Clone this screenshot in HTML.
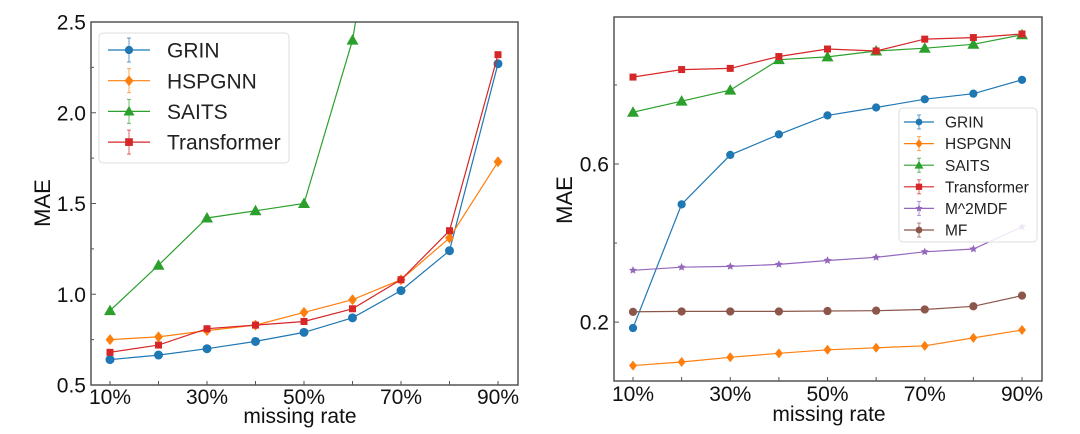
<!DOCTYPE html>
<html><head><meta charset="utf-8"><style>
html,body{margin:0;padding:0;background:#fff;}
svg{display:block;font-family:"Liberation Sans",sans-serif;}
</style></head><body>
<svg id="chart" width="1080" height="434" viewBox="0 0 1080 434" xmlns="http://www.w3.org/2000/svg"></svg>
<script>
const categories = ["10%","20%","30%","40%","50%","60%","70%","80%","90%"];
const xTickLabels = ["10%","30%","50%","70%","90%"];
// Left panel
const leftGRIN = [0.64,0.665,0.70,0.74,0.79,0.87,1.02,1.24,2.27];
const leftHSPGNN = [0.75,0.765,0.80,0.83,0.90,0.97,1.08,1.31,1.73];
const leftSAITS = [0.91,1.16,1.42,1.46,1.50,2.40,4.0,4.5,5.0];
const leftTransformer = [0.68,0.72,0.81,0.83,0.85,0.92,1.08,1.35,2.32];
const leftYTicks = [0.5,1.0,1.5,2.0,2.5];
const leftYTickLabels = ["0.5","1.0","1.5","2.0","2.5"];
const leftYMinor = [0.75,1.25,1.75,2.25];
// Right panel
const rightGRIN = [0.185,0.498,0.623,0.675,0.723,0.743,0.764,0.778,0.813];
const rightHSPGNN = [0.090,0.099,0.111,0.121,0.130,0.135,0.140,0.160,0.180];
const rightSAITS = [0.731,0.759,0.787,0.864,0.871,0.886,0.893,0.903,0.927];
const rightTransformer = [0.820,0.839,0.842,0.872,0.891,0.886,0.916,0.920,0.929];
const rightM2MDF = [0.331,0.339,0.341,0.346,0.356,0.364,0.378,0.385,0.441];
const rightMF = [0.226,0.227,0.227,0.227,0.228,0.229,0.232,0.240,0.267];
const rightYTicks = [0.2,0.6];
const rightYTickLabels = ["0.2","0.6"];
const rightYMinor = [0.4,0.8];

const NS="http://www.w3.org/2000/svg";
const svg=document.getElementById('chart');
function mk(tag,attrs,parent){const e=document.createElementNS(NS,tag);for(const k in attrs)e.setAttribute(k,attrs[k]);(parent||svg).appendChild(e);return e;}

const colors={GRIN:"#1f77b4",HSPGNN:"#ff7f0e",SAITS:"#2ca02c",Transformer:"#d62728",M2MDF:"#9467bd",MF:"#8c564b"};

function marker(g,type,x,y,c,s){
  let e;
  if(type==='circle') e=mk('circle',{cx:x,cy:y,r:s*0.75,fill:c},g);
  else if(type==='diamond') e=mk('polygon',{points:`${x},${y-s} ${x+s*0.8},${y} ${x},${y+s} ${x-s*0.8},${y}`,fill:c},g);
  else if(type==='triangle') e=mk('polygon',{points:`${x},${y-s} ${x+s},${y+s*0.75} ${x-s},${y+s*0.75}`,fill:c},g);
  else if(type==='square') e=mk('rect',{x:x-s*0.7,y:y-s*0.7,width:s*1.4,height:s*1.4,fill:c},g);
  else if(type==='star'){let p=[];for(let i=0;i<10;i++){const r=i%2?s*0.4:s*0.85;const a=-Math.PI/2+i*Math.PI/5;p.push((x+r*Math.cos(a)).toFixed(1)+','+(y+r*Math.sin(a)).toFixed(1));}e=mk('polygon',{points:p.join(' '),fill:c},g);}
  return e;
}

function panel(cfg){
  const {id,L,R,T,B,x0,x1,ymin,ymax,series,yTicks,yLabels,yMinor,font,maeX,maeY,xlabX,xlabY,xtickDy}=cfg;
  const xs=i=>x0+(x1-x0)*i/(categories.length-1);
  const ys=v=>B-(v-ymin)/(ymax-ymin)*(B-T);
  const g=mk('g',{});
  
  
  const clip=mk('clipPath',{id:id+'clip'},g);
  mk('rect',{x:L,y:T,width:R-L,height:B-T},clip);
  const pg=mk('g',{'clip-path':`url(#${id}clip)`},g);
  series.forEach(s=>{
    const sg=mk('g',{},pg);
    
    
    const pts=s.vals.map((v,i)=>xs(i).toFixed(1)+','+ys(v).toFixed(1)).join(' ');
    mk('polyline',{points:pts,fill:'none',stroke:s.c,'stroke-width':1.2},sg);
    s.vals.forEach((v,i)=>{const m=marker(sg,s.m,xs(i),ys(v),s.c,s.ms);
      
      });
  });
  const fr=mk('rect',{x:L,y:T,width:R-L,height:B-T,fill:'none',stroke:'#555','stroke-width':1.5},g);
  
  
  categories.forEach((c,i)=>{mk('line',{x1:xs(i),x2:xs(i),y1:B,y2:B-4,stroke:'#555','stroke-width':1},g);});
  xTickLabels.forEach((lab,j)=>{const i=categories.indexOf(lab);
    const t=mk('text',{x:xs(i),y:B+xtickDy,'text-anchor':'middle','font-size':font,fill:'#111'},g);t.textContent=lab;
    
    });
  yTicks.forEach((v,j)=>{mk('line',{x1:L,x2:L+5,y1:ys(v),y2:ys(v),stroke:'#555','stroke-width':1},g);
    const t=mk('text',{x:L-5,y:ys(v)+7.5,'text-anchor':'end','font-size':font,fill:'#111'},g);t.textContent=yLabels[j];
    
    });
  yMinor.forEach(v=>{mk('line',{x1:L,x2:L+3,y1:ys(v),y2:ys(v),stroke:'#555','stroke-width':1},g);});
  const yl=mk('text',{x:maeX,y:maeY,'text-anchor':'middle','font-size':font+1,fill:'#111',transform:`rotate(-90 ${maeX} ${maeY})`},g);yl.textContent='MAE';
  
  
  const xl=mk('text',{x:xlabX,y:xlabY,'text-anchor':'middle','font-size':font,fill:'#111'},g);xl.textContent='missing rate';
  
  
  const lg=cfg.legend;
  const lgG=mk('g',{},g);
  
  
  mk('rect',{x:lg.x,y:lg.y,width:lg.w,height:lg.h,rx:4,fill:'rgba(255,255,255,0.85)',stroke:'#ddd','stroke-width':1},lgG);
  series.forEach((s,k)=>{
    const ey=lg.y0+k*lg.dy;
    const eg=mk('g',{},lgG);
    
    
    const lc=(lg.lx0+lg.lx1)/2;
    mk('line',{x1:lg.lx0,x2:lg.lx1,y1:ey,y2:ey,stroke:s.c,'stroke-width':1.2},eg);
    mk('line',{x1:lc,x2:lc,y1:ey-lg.eb,y2:ey+lg.eb,stroke:s.c,'stroke-width':1,opacity:0.7},eg);
    mk('line',{x1:lc-2,x2:lc+2,y1:ey-lg.eb,y2:ey-lg.eb,stroke:s.c,'stroke-width':1,opacity:0.7},eg);
    mk('line',{x1:lc-2,x2:lc+2,y1:ey+lg.eb,y2:ey+lg.eb,stroke:s.c,'stroke-width':1,opacity:0.7},eg);
    marker(eg,s.m,lc,ey,s.c,lg.ms);
    const t=mk('text',{x:lg.tx,y:ey+lg.fs*0.36,'font-size':lg.fs,fill:'#222'},eg);t.textContent=s.label;
  });
}

panel({id:'left',L:91,R:518,T:22,B:385,x0:110,x1:498,ymin:0.5,ymax:2.5,
  yTicks:leftYTicks,yLabels:leftYTickLabels,yMinor:leftYMinor,font:21,maeX:50,maeY:203,xlabX:300,xlabY:423,xtickDy:19,
  series:[
    {name:'GRIN',label:'GRIN',vals:leftGRIN,c:colors.GRIN,m:'circle',ms:6},
    {name:'HSPGNN',label:'HSPGNN',vals:leftHSPGNN,c:colors.HSPGNN,m:'diamond',ms:5.5},
    {name:'SAITS',label:'SAITS',vals:leftSAITS,c:colors.SAITS,m:'triangle',ms:6},
    {name:'Transformer',label:'Transformer',vals:leftTransformer,c:colors.Transformer,m:'square',ms:5}],
  legend:{x:99,y:33,w:190,h:130,y0:50,dy:30.7,lx0:108,lx1:150,tx:167,fs:21,ms:5.5,eb:12}
});
panel({id:'right',L:614,R:1042,T:17,B:381,x0:633,x1:1022,ymin:0.051,ymax:0.972,
  yTicks:rightYTicks,yLabels:rightYTickLabels,yMinor:rightYMinor,font:21,maeX:572,maeY:200,xlabX:829,xlabY:421,xtickDy:20,
  series:[
    {name:'GRIN',label:'GRIN',vals:rightGRIN,c:colors.GRIN,m:'circle',ms:5.5},
    {name:'HSPGNN',label:'HSPGNN',vals:rightHSPGNN,c:colors.HSPGNN,m:'diamond',ms:5},
    {name:'SAITS',label:'SAITS',vals:rightSAITS,c:colors.SAITS,m:'triangle',ms:6},
    {name:'Transformer',label:'Transformer',vals:rightTransformer,c:colors.Transformer,m:'square',ms:5},
    {name:'M2MDF',label:'M^2MDF',vals:rightM2MDF,c:colors.M2MDF,m:'star',ms:5},
    {name:'MF',label:'MF',vals:rightMF,c:colors.MF,m:'circle',ms:5.5}],
  legend:{x:899,y:108,w:138,h:134,y0:122,dy:21.6,lx0:904,lx1:934,tx:945,fs:15.5,ms:4.5,eb:7}
});
</script>
</body></html>
